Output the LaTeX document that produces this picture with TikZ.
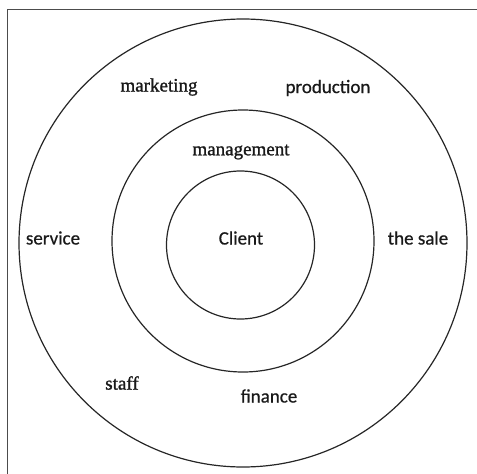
\documentclass[tikz,border=0pt]{standalone}
\usepackage{fontspec}
\setmainfont{Liberation Serif}[FakeBold=1.2]
\newfontfamily\lblsans{Carlito}[FakeBold=0.6]
\begin{document}
\begin{tikzpicture}[x=1pt,y=-1pt,
  ring/.style={circle,draw=black!85,line width=1.2pt,inner sep=0pt},
  sans/.style={font=\lblsans\fontsize{19}{21}\selectfont,text=black!90,inner sep=0pt},
  serif/.style={font=\fontsize{19}{21}\selectfont,text=black!90,inner sep=0pt}]
\useasboundingbox (0,0) rectangle (477,474);
\draw[black!70,line width=0.8pt] (7,480) -- (7,9) -- (480,9);
\node[ring,minimum size=448pt] (outer) at (243,243) {};
\node[ring,minimum size=262pt] (middle) at (243,241) {};
\node[ring,minimum size=148pt] (inner) at (240.5,245) {};
\node[serif] (marketing) at (159,87) {marketing};
\node[sans] (production) at (328,88) {production};
\node[serif] (management) at (241,152) {management};
\node[sans] (service) at (53,238) {service};
\node[sans] (client) at (241,238) {Client};
\node[sans] (sale) at (418,238) {the sale};
\node[serif] (staff) at (122,383) {staff};
\node[sans] (finance) at (269,396) {finance};
\end{tikzpicture}
\end{document}
